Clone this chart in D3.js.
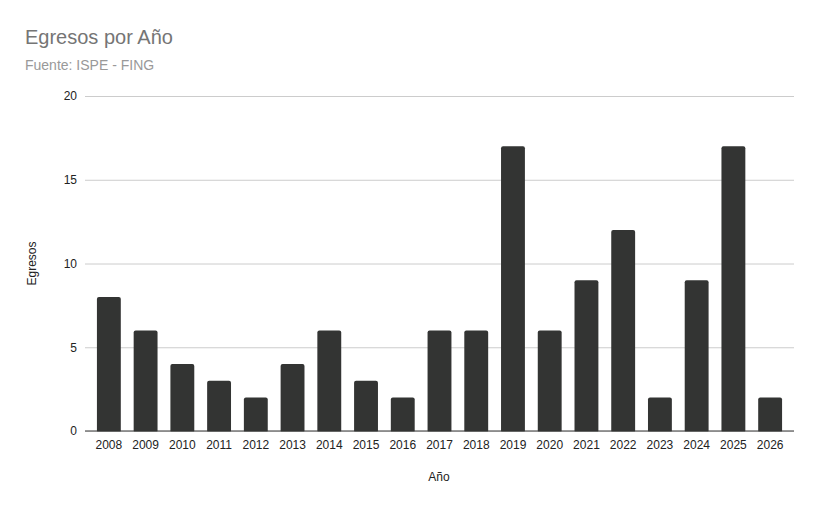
<!DOCTYPE html>
<html>
<head>
<meta charset="utf-8">
<script src="https://cdn.jsdelivr.net/npm/d3@7/dist/d3.min.js"></script>
<style>
  body { margin: 0; background: #fff; }
  text { font-family: Arial, 'Liberation Sans', sans-serif; }
</style>
</head>
<body>
<svg id="chart" width="820" height="509"></svg>
<script>
'use strict';

var years = ['2008', '2009', '2010', '2011', '2012', '2013', '2014', '2015', '2016', '2017',
    '2018', '2019', '2020', '2021', '2022', '2023', '2024', '2025', '2026'];
var egresos = [8, 6, 4, 3, 2, 4, 6, 3, 2, 6, 6, 17, 6, 9, 12, 2, 9, 17, 2];
var yTicks = [0, 5, 10, 15, 20];

var fontFamily = "Arial, 'Liberation Sans', sans-serif";
var svg = d3.select('#chart');

var plotLeft = 85, plotRight = 794, plotTop = 96, plotBottom = 431;

var x = d3.scaleBand()
    .domain(years)
    .range([plotLeft + 5.5, plotRight - 5.5])
    .paddingInner(0.35)
    .paddingOuter(0.175);

var y = d3.scaleLinear()
    .domain([0, 20])
    .range([plotBottom, plotTop]);

// title
svg.append('text')
    .attr('x', 25).attr('y', 44)
    .attr('font-size', 20)
    .attr('fill', '#757575')
    .text('Egresos por Año');

svg.append('text')
    .attr('x', 25).attr('y', 70)
    .attr('font-size', 14)
    .attr('fill', '#999999')
    .text('Fuente: ISPE - FING');

// gridlines
var yAxis = d3.axisLeft(y)
    .tickValues(yTicks)
    .tickSize(-(plotRight - plotLeft))
    .tickPadding(8);

var gy = svg.append('g')
    .attr('transform', 'translate(' + plotLeft + ',0)')
    .call(yAxis);
gy.select('.domain').remove();
gy.selectAll('.tick line').attr('stroke', '#cccccc');
gy.selectAll('.tick text')
    .attr('font-size', 12)
    .attr('fill', '#222222')
    .attr('font-family', fontFamily);

// bars
svg.append('g')
    .selectAll('rect')
    .data(egresos)
    .enter()
    .append('rect')
    .attr('x', function (d, i) { return x(years[i]); })
    .attr('y', function (d) { return y(d); })
    .attr('width', x.bandwidth())
    .attr('height', function (d) { return plotBottom - y(d) + 2; })
    .attr('rx', 2)
    .attr('fill', '#333433');

// cover rounded bottom under baseline
svg.append('rect')
    .attr('x', plotLeft).attr('y', plotBottom + 0.5)
    .attr('width', plotRight - plotLeft).attr('height', 3)
    .attr('fill', '#fff');

// x axis
var xAxis = d3.axisBottom(x).tickSize(0).tickPadding(9);
var gx = svg.append('g')
    .attr('transform', 'translate(0,' + plotBottom + ')')
    .call(xAxis);
gx.select('.domain').remove();
gx.selectAll('.tick text')
    .attr('font-size', 12)
    .attr('fill', '#222222')
    .attr('font-family', fontFamily);

svg.append('line')
    .attr('x1', plotLeft).attr('x2', plotRight)
    .attr('y1', plotBottom).attr('y2', plotBottom)
    .attr('stroke', '#333333')
    .attr('stroke-width', 1);

// axis titles
svg.append('text')
    .attr('x', 439).attr('y', 481)
    .attr('text-anchor', 'middle')
    .attr('font-size', 12)
    .attr('fill', '#222222')
    .text('Año');

svg.append('text')
    .attr('transform', 'translate(36,' + ((plotTop + plotBottom) / 2) + ') rotate(-90)')
    .attr('text-anchor', 'middle')
    .attr('font-size', 12)
    .attr('fill', '#222222')
    .text('Egresos');
</script>
</body>
</html>
